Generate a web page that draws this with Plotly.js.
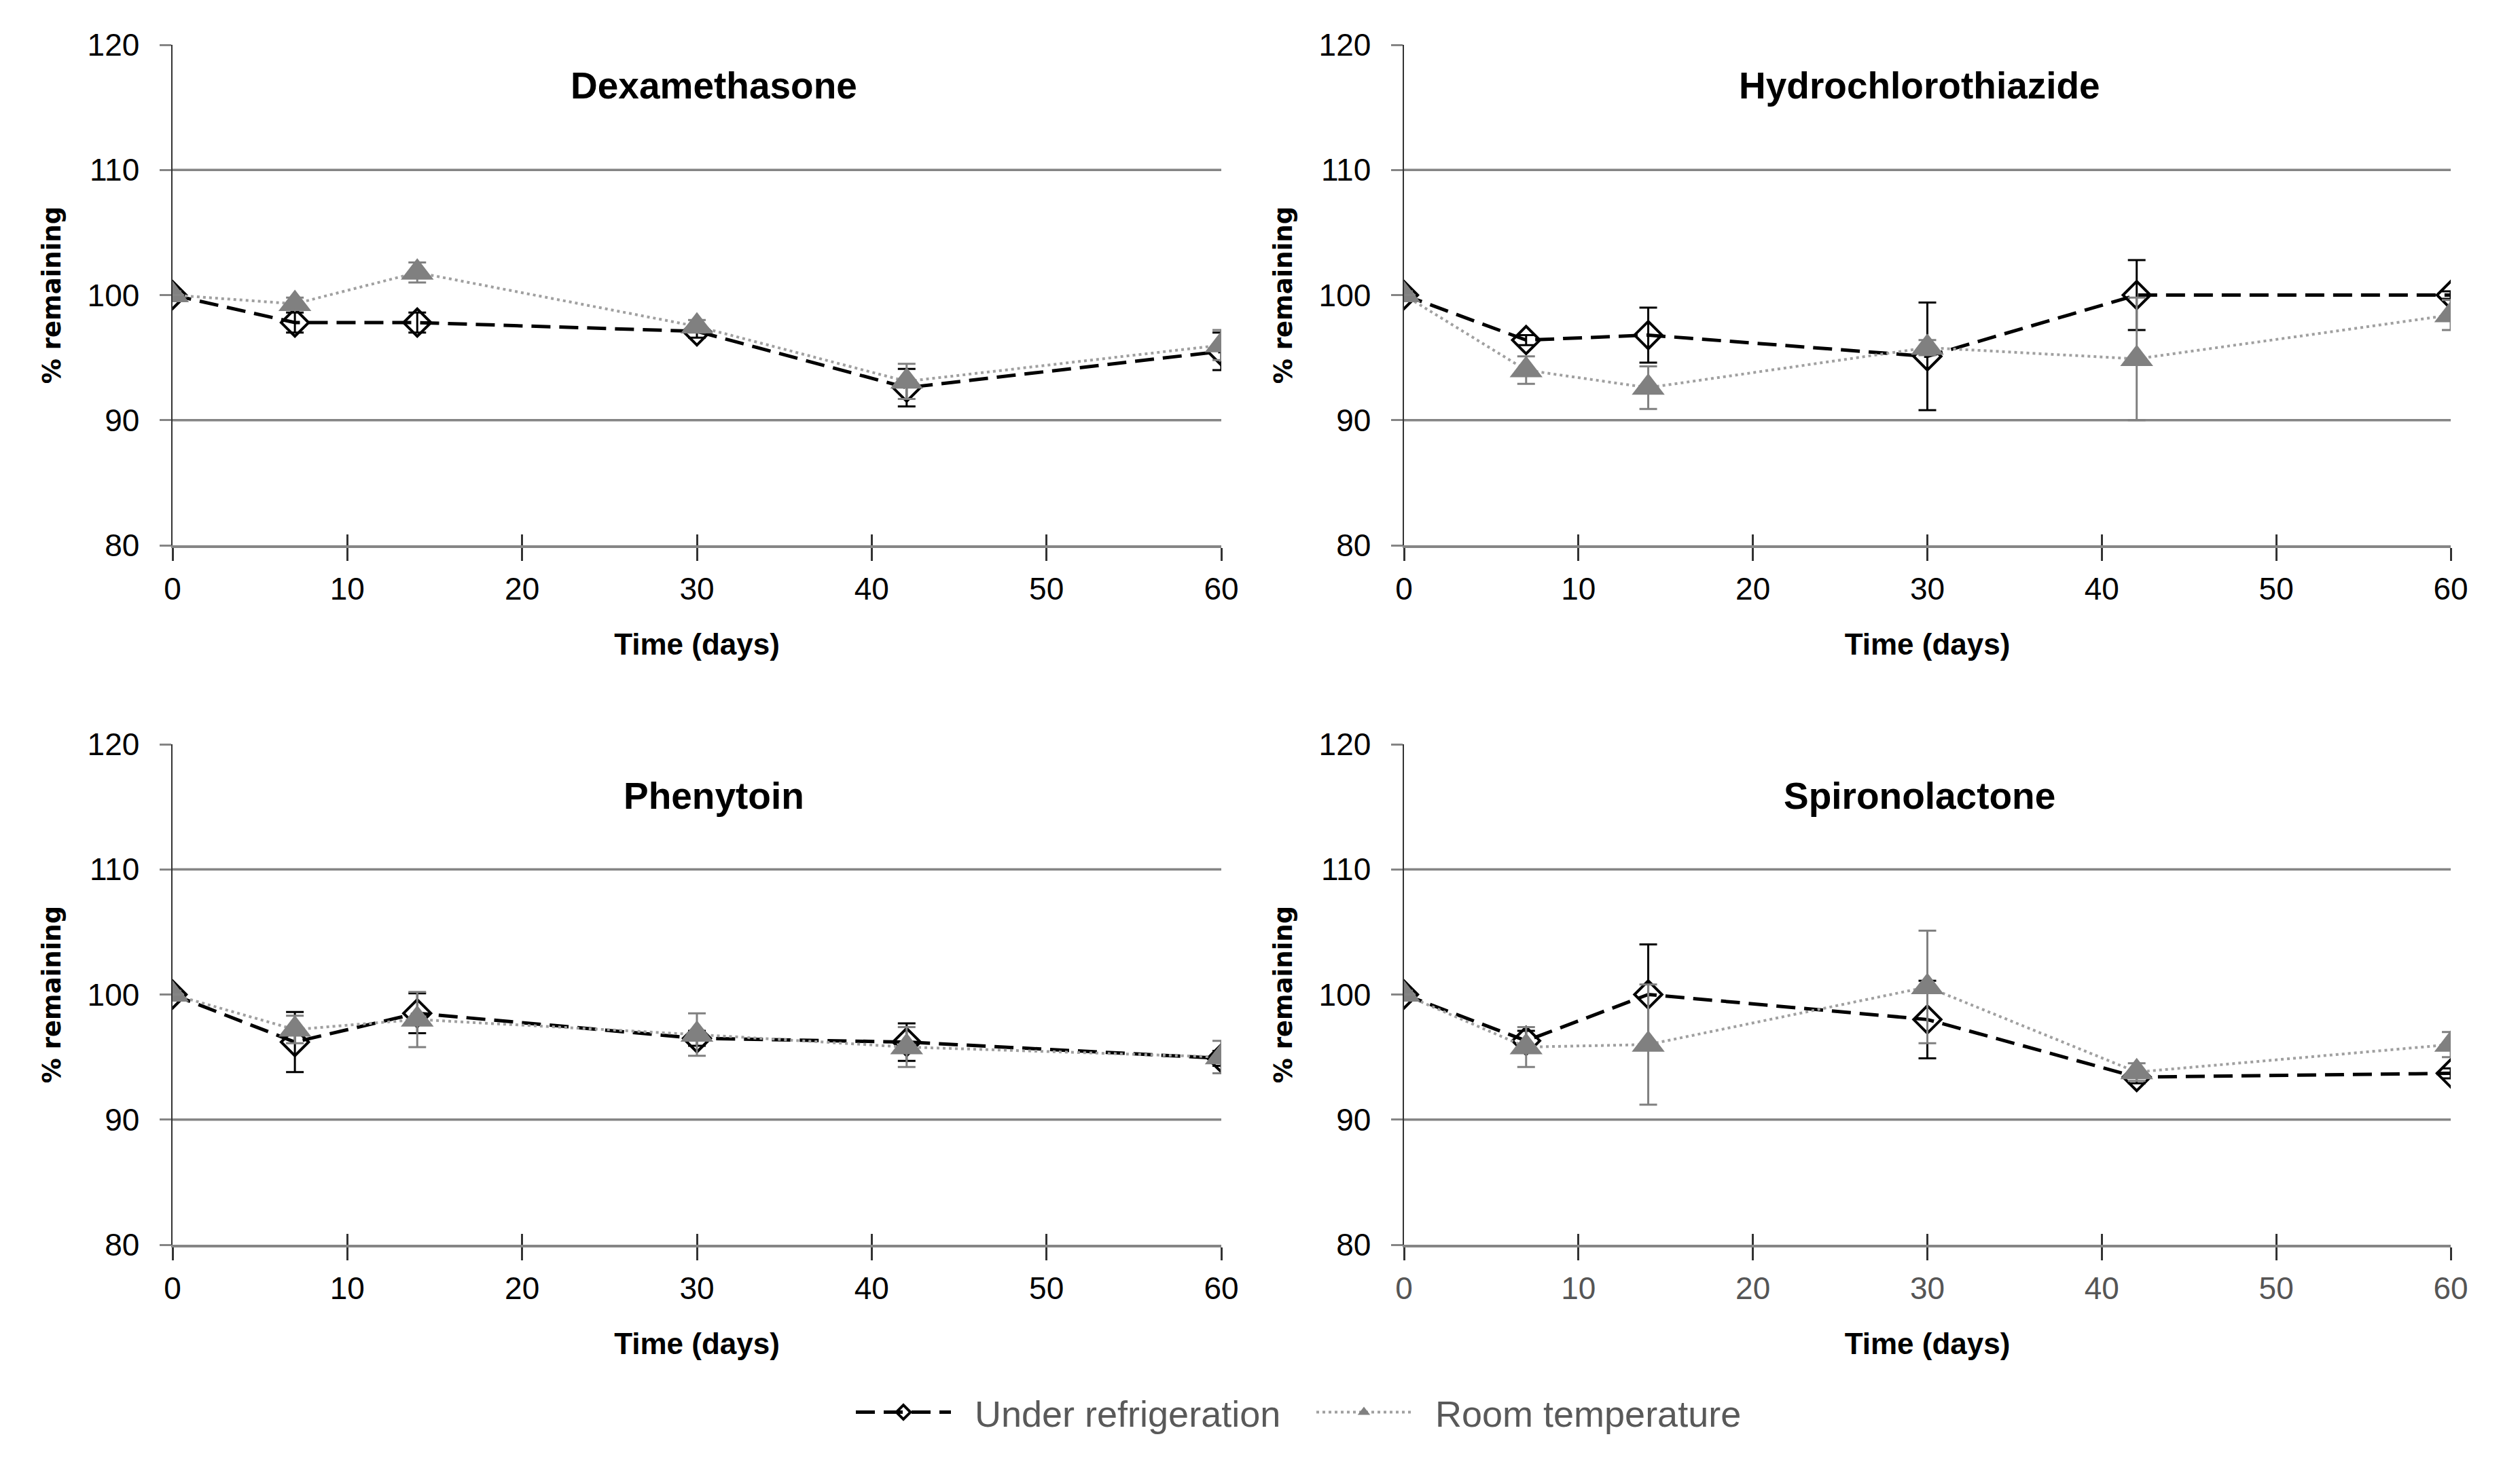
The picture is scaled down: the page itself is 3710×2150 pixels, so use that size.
<!DOCTYPE html>
<html>
<head>
<meta charset="utf-8">
<script src="https://cdn.plot.ly/plotly-3.0.1.min.js"></script>
<style>
html,body{margin:0;padding:0;background:#fff;}
#chart{width:3710px;height:2150px;}
</style>
</head>
<body>
<div id="chart"></div>
<script>
// ---- data ----
const days = [0, 7, 14, 30, 42, 60];
const xTicks = [0, 10, 20, 30, 40, 50, 60];
const yTicks = [80, 90, 100, 110, 120];
const gridVals = [90, 110];
const seriesNames = ['Under refrigeration', 'Room temperature'];
const drugNames = ['Dexamethasone', 'Hydrochlorothiazide', 'Phenytoin', 'Spironolactone'];

const dexRef      = [100, 97.8, 97.8, 97.1, 92.6, 95.5];
const dexRefErr   = [0.3, 0.8, 0.8, 0.5, 1.5, 1.5];
const dexRoom     = [100, 99.3, 101.8, 97.5, 93.1, 96.0];
const dexRoomErr  = [0.3, 0.5, 0.8, 0.5, 1.4, 1.2];

const hctRef      = [100, 96.4, 96.8, 95.1, 100, 100];
const hctRefErr   = [0.3, 0.4, 2.2, 4.3, 2.8, 0.3];
const hctRoom     = [100, 94.0, 92.6, 95.8, 94.9, 98.4];
const hctRoomErr  = [0.3, 1.1, 1.7, 0.6, 4.9, 1.2];

const phtRef      = [100, 96.2, 98.5, 96.5, 96.2, 94.9];
const phtRefErr   = [0.3, 2.4, 1.6, 0.6, 1.5, 0.6];
const phtRoom     = [100, 97.2, 98.0, 96.8, 95.8, 95.0];
const phtRoomErr  = [0.3, 1.1, 2.2, 1.7, 1.6, 1.3];

const spiRef      = [100, 96.3, 100, 98.0, 93.4, 93.7];
const spiRefErr   = [0.3, 0.8, 4.0, 3.1, 0.5, 0.4];
const spiRoom     = [100, 95.8, 96.0, 100.6, 93.8, 96.0];
const spiRoomErr  = [0.3, 1.6, 4.8, 4.5, 0.7, 1.0];

// ---- layout geometry ----
const W = 3710, H = 2150;
const xL = [254 / W, 1798 / W], xR = [2067 / W, 3608 / W];
const yT = [1 - 803 / H, 1 - 66 / H], yB = [1 - 1833 / H, 1 - 1096 / H];

const panels = [
  {title: drugNames[0], ref: dexRef, refErr: dexRefErr, room: dexRoom, roomErr: dexRoomErr, xd: xL, yd: yT, tx: 1051 / W, ty: 1 - 126 / H, lab: '#000'},
  {title: drugNames[1], ref: hctRef, refErr: hctRefErr, room: hctRoom, roomErr: hctRoomErr, xd: xR, yd: yT, tx: 2826 / W, ty: 1 - 126 / H, lab: '#000'},
  {title: drugNames[2], ref: phtRef, refErr: phtRefErr, room: phtRoom, roomErr: phtRoomErr, xd: xL, yd: yB, tx: 1051 / W, ty: 1 - 1172 / H, lab: '#000'},
  {title: drugNames[3], ref: spiRef, refErr: spiRefErr, room: spiRoom, roomErr: spiRoomErr, xd: xR, yd: yB, tx: 2826 / W, ty: 1 - 1172 / H, lab: '#555'}
];

const FONT = 'Liberation Sans, Arial, sans-serif';
const GRID = '#858585';
const TICKC = '#333';
const ROOMC = '#808080';

const traces = [];
const layout = {
  width: W, height: H,
  margin: {l: 0, r: 0, t: 0, b: 0},
  paper_bgcolor: '#fff', plot_bgcolor: 'rgba(0,0,0,0)',
  showlegend: true,
  legend: {
    orientation: 'h', x: 1255 / W, xanchor: 'left', y: 1 - 2080 / H, yanchor: 'middle',
    font: {family: FONT, size: 54, color: '#595959'},
    itemwidth: 140, entrywidth: 523, entrywidthmode: 'pixels', tracegroupgap: 0
  },
  shapes: [], annotations: []
};

panels.forEach((p, i) => {
  const n = i + 1;
  const xa = n === 1 ? 'x' : 'x' + n;
  const ya = n === 1 ? 'y' : 'y' + n;
  const xo = 'x' + (n + 4);
  const yo = 'y' + (n + 8);

  traces.push({
    type: 'scatter', mode: 'lines+markers', name: '\u00a0\u00a0' + seriesNames[0],
    x: days, y: p.ref, xaxis: xa, yaxis: ya, showlegend: i === 0,
    line: {color: '#000', width: 5, dash: '28px,13px'},
    marker: {symbol: 'diamond-open', size: 31, color: '#000', line: {width: 4, color: '#000'}},
    error_y: {type: 'data', array: p.refErr, visible: true, color: '#000', thickness: 3, width: 13}
  });
  traces.push({
    type: 'scatter', mode: 'lines+markers', name: '\u00a0\u00a0' + seriesNames[1],
    x: days, y: p.room, xaxis: xa, yaxis: ya, showlegend: i === 0,
    line: {color: '#a0a0a0', width: 4, dash: '4px,5px'},
    marker: {symbol: 'triangle-up', size: 42, color: ROOMC},
    error_y: {type: 'data', array: p.roomErr, visible: true, color: ROOMC, thickness: 3, width: 13}
  });
  // empty traces so the overlay tick axes get drawn
  traces.push({type: 'scatter', mode: 'markers', x: [], y: [], xaxis: xo, yaxis: ya, showlegend: false, hoverinfo: 'skip'});
  traces.push({type: 'scatter', mode: 'markers', x: [], y: [], xaxis: xa, yaxis: yo, showlegend: false, hoverinfo: 'skip'});

  layout['xaxis' + (n === 1 ? '' : n)] = {
    domain: p.xd, anchor: ya, range: [0, 60], tickvals: xTicks, ticktext: xTicks.map(String),
    showgrid: false, zeroline: false, showline: true, linecolor: GRID, linewidth: 4,
    ticks: 'outside', ticklen: 19, tickwidth: 3, tickcolor: TICKC, ticklabelstandoff: 2,
    tickfont: {family: FONT, size: 46, color: p.lab},
    title: {text: 'Time (days)', font: {family: FONT, size: 44, color: '#000', weight: 'bold'}, standoff: 42},
    fixedrange: true
  };
  layout['xaxis' + (n + 4)] = {
    overlaying: xa, anchor: ya, range: [0, 60], tickvals: xTicks, showticklabels: false,
    showgrid: false, zeroline: false, showline: false,
    ticks: 'inside', ticklen: 16, tickwidth: 3, tickcolor: TICKC, fixedrange: true
  };
  layout['yaxis' + (n === 1 ? '' : n)] = {
    domain: p.yd, anchor: xa, range: [80, 120], tickvals: yTicks, ticktext: yTicks.map(String),
    showgrid: false, zeroline: false, showline: true, linecolor: '#333', linewidth: 2.5,
    ticks: 'outside', ticklen: 17, tickwidth: 3, tickcolor: GRID, ticklabelstandoff: 20,
    tickfont: {family: FONT, size: 46, color: '#000'},
    title: {text: '% remaining', font: {family: 'DejaVu Sans, Verdana, sans-serif', size: 37, color: '#000', weight: 'bold'}, standoff: 28},
    fixedrange: true
  };
  layout['yaxis' + (n + 8)] = {
    overlaying: ya, anchor: xa, side: 'left', range: [80, 120], tickvals: yTicks, showticklabels: false,
    showgrid: false, zeroline: false, showline: false,
    ticks: 'inside', ticklen: 17, tickwidth: 3, tickcolor: GRID, fixedrange: true
  };

  gridVals.forEach(v => {
    layout.shapes.push({type: 'line', xref: xa, yref: ya, x0: 0, x1: 60, y0: v, y1: v,
      line: {color: GRID, width: 3.5}, layer: 'below'});
  });

  layout.annotations.push({
    text: p.title, xref: 'paper', yref: 'paper', x: p.tx, y: p.ty, xanchor: 'center', yanchor: 'middle',
    showarrow: false, font: {family: FONT, size: 55, color: '#000', weight: 'bold'}
  });
});

Plotly.newPlot('chart', traces, layout, {displayModeBar: false, staticPlot: true});
</script>
</body>
</html>
